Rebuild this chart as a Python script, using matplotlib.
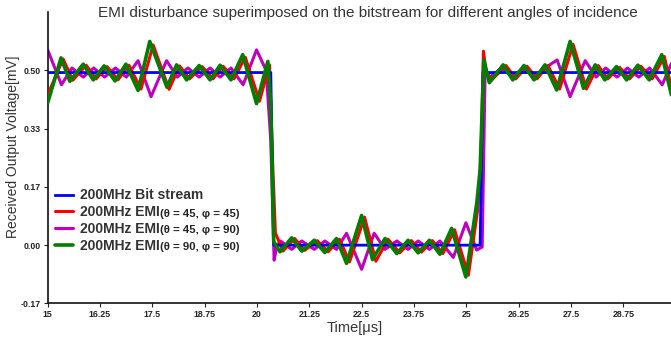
import matplotlib.pyplot as plt

plt.rcParams['font.family'] = ['Liberation Sans', 'DejaVu Sans']

# values (time in us, voltage in mV)
blue_t = [15.0, 20.33, 20.40, 25.33, 25.40, 29.9]
blue_v = [0.494, 0.494, 0.0, 0.0, 0.494, 0.494]

red_t = [15.00, 15.37, 15.60, 15.92, 16.16, 16.42, 16.68, 16.94, 17.23, 17.52,
         17.90, 18.15, 18.39, 18.69, 18.95, 19.19, 19.45, 19.72, 20.06, 20.30,
         20.37, 20.44, 20.62, 20.90, 21.14, 21.44, 21.70, 21.97, 22.21, 22.57,
         22.84, 23.13, 23.41, 23.69, 23.93, 24.19, 24.44, 24.72, 25.05, 25.27,
         25.35, 25.41, 25.47, 25.60, 25.95, 26.18, 26.45, 26.69, 26.95, 27.23,
         27.55, 27.87, 28.15, 28.38, 28.66, 28.90, 29.17, 29.44, 29.73, 29.90]
red_v = [0.430, 0.533, 0.472, 0.515, 0.476, 0.511, 0.473, 0.515, 0.447, 0.573,
         0.446, 0.513, 0.476, 0.511, 0.476, 0.512, 0.476, 0.538, 0.412, 0.516,
         0.250, 0.035, -0.017, 0.019, -0.015, 0.013, -0.019, 0.017, -0.048, 0.080,
         -0.046, 0.017, -0.022, 0.013, -0.020, 0.013, -0.024, 0.044, -0.086, 0.100,
         0.250, 0.555, 0.500, 0.472, 0.514, 0.476, 0.512, 0.476, 0.514, 0.447,
         0.575, 0.447, 0.514, 0.476, 0.509, 0.476, 0.512, 0.476, 0.540, 0.450]

mag_t = [15.00, 15.33, 15.58, 15.85, 16.10, 16.36, 16.62, 16.88, 17.16, 17.47,
         17.84, 18.10, 18.35, 18.62, 18.88, 19.12, 19.38, 19.67, 19.99, 20.22,
         20.33, 20.41, 20.47, 20.56, 20.83, 21.07, 21.37, 21.62, 21.90, 22.14,
         22.50, 22.80, 23.06, 23.34, 23.61, 23.85, 24.12, 24.37, 24.69, 24.99,
         25.25, 25.38, 25.45, 25.56, 25.85, 26.10, 26.36, 26.62, 26.88, 27.17,
         27.48, 27.84, 28.10, 28.33, 28.60, 28.85, 29.12, 29.38, 29.68, 29.90]
mag_v = [0.559, 0.459, 0.507, 0.481, 0.507, 0.481, 0.507, 0.481, 0.528, 0.425,
         0.528, 0.481, 0.507, 0.481, 0.507, 0.481, 0.507, 0.459, 0.559, 0.500,
         0.300, -0.043, -0.005, 0.012, -0.012, 0.012, -0.012, 0.012, -0.012, 0.034,
         -0.069, 0.034, -0.012, 0.012, -0.012, 0.012, -0.012, 0.012, -0.035, 0.064,
         -0.014, -0.005, 0.500, 0.481, 0.507, 0.481, 0.507, 0.481, 0.507, 0.530,
         0.425, 0.528, 0.481, 0.507, 0.481, 0.507, 0.481, 0.507, 0.459, 0.520]

green_t = [15.00, 15.32, 15.53, 15.85, 16.09, 16.35, 16.61, 16.87, 17.16, 17.44,
           17.85, 18.08, 18.32, 18.62, 18.88, 19.12, 19.38, 19.66, 19.99, 20.26,
           20.33, 20.40, 20.55, 20.83, 21.07, 21.37, 21.62, 21.90, 22.14, 22.50,
           22.76, 23.06, 23.34, 23.61, 23.85, 24.12, 24.37, 24.65, 24.99, 25.25,
           25.33, 25.42, 25.55, 25.88, 26.11, 26.38, 26.62, 26.88, 27.16, 27.48,
           27.80, 28.08, 28.31, 28.59, 28.83, 29.10, 29.37, 29.67, 29.90]
green_v = [0.407, 0.536, 0.469, 0.518, 0.473, 0.513, 0.470, 0.518, 0.443, 0.583,
           0.452, 0.516, 0.473, 0.514, 0.473, 0.515, 0.473, 0.545, 0.405, 0.526,
           0.400, 0.010, -0.019, 0.021, -0.017, 0.014, -0.021, 0.019, -0.052, 0.085,
           -0.041, 0.019, -0.024, 0.014, -0.022, 0.014, -0.026, 0.048, -0.091, 0.120,
           0.215, 0.530, 0.465, 0.516, 0.473, 0.514, 0.473, 0.516, 0.444, 0.583,
           0.449, 0.516, 0.473, 0.511, 0.473, 0.515, 0.473, 0.545, 0.430]

labels = ["200MHz Bit stream", "200MHz EMI", "200MHz EMI", "200MHz EMI"]
angles = ["", "(θ = 45, φ = 45)", "(θ = 45, φ = 90)", "(θ = 90, φ = 90)"]

xticks = [15, 16.25, 17.5, 18.75, 20, 21.25, 22.5, 23.75, 25, 26.25, 27.5, 28.75]
xtick_labels = ["15", "16.25", "17.5", "18.75", "20", "21.25", "22.5", "23.75",
                "25", "26.25", "27.5", "28.75"]
yticks = [-1/6, 0, 1/6, 1/3, 0.5]
ytick_labels = ["-0.17", "0.00", "0.17", "0.33", "0.50"]

fig = plt.figure(figsize=(6.71, 3.39), dpi=100)
ax = fig.add_axes([0.071, 0.105, 0.929, 0.859])

kw = dict(solid_joinstyle="round", solid_capstyle="round")
l1, = ax.plot(blue_t, blue_v, color="#0000ff", lw=2.0, zorder=4)
l2, = ax.plot(red_t, red_v, color="#ff0000", lw=2.2, zorder=3, **kw)
l3, = ax.plot(mag_t, mag_v, color="#c000c0", lw=2.2, zorder=2, **kw)
l4, = ax.plot(green_t, green_v, color="#008000", lw=2.6, zorder=5, **kw)

ax.set_xlim(15, 29.89)
ax.set_ylim(-1/6, 2/3)
ax.set_xticks(xticks)
ax.set_xticklabels(xtick_labels)
ax.set_yticks(yticks)
ax.set_yticklabels(ytick_labels)
ax.tick_params(labelsize=6.3, length=3, width=0.8, pad=2, colors="#222222")
for t in ax.get_xticklabels() + ax.get_yticklabels():
    t.set_fontweight("bold")
for s in ["top", "right"]:
    ax.spines[s].set_visible(False)
for s in ["left", "bottom"]:
    ax.spines[s].set_linewidth(1.2)
    ax.spines[s].set_color("#111111")

fig.text(0.548, 0.962, "EMI disturbance superimposed on the bitstream for different angles of incidence",
         ha="center", va="center", fontsize=11, color="#333333")
fig.text(0.019, 0.566, "Received Output Voltage[mV]", rotation=90, ha="center",
         va="center", fontsize=10, color="#333333")
fig.text(0.528, 0.033, "Time[μs]", ha="center", va="center", fontsize=10.5, color="#333333")

leg = ax.legend([l1, l2, l3, l4], labels, loc="upper left", bbox_to_anchor=(0.012, 0.395),
                frameon=False, prop={"weight": "bold", "size": 10}, handlelength=1.3,
                handletextpad=0.5, labelspacing=0.2, borderpad=0, borderaxespad=0)
for txt in leg.get_texts():
    txt.set_color("#333333")
for txt, a in zip(leg.get_texts(), angles):
    if a:
        ax.annotate(a, xy=(1, 0.4), xycoords=txt, ha="left", va="center", fontsize=8.2,
                    fontweight="bold", color="#222222", zorder=6)

fig.canvas.draw()
plt.savefig("out.png", dpi=100)
